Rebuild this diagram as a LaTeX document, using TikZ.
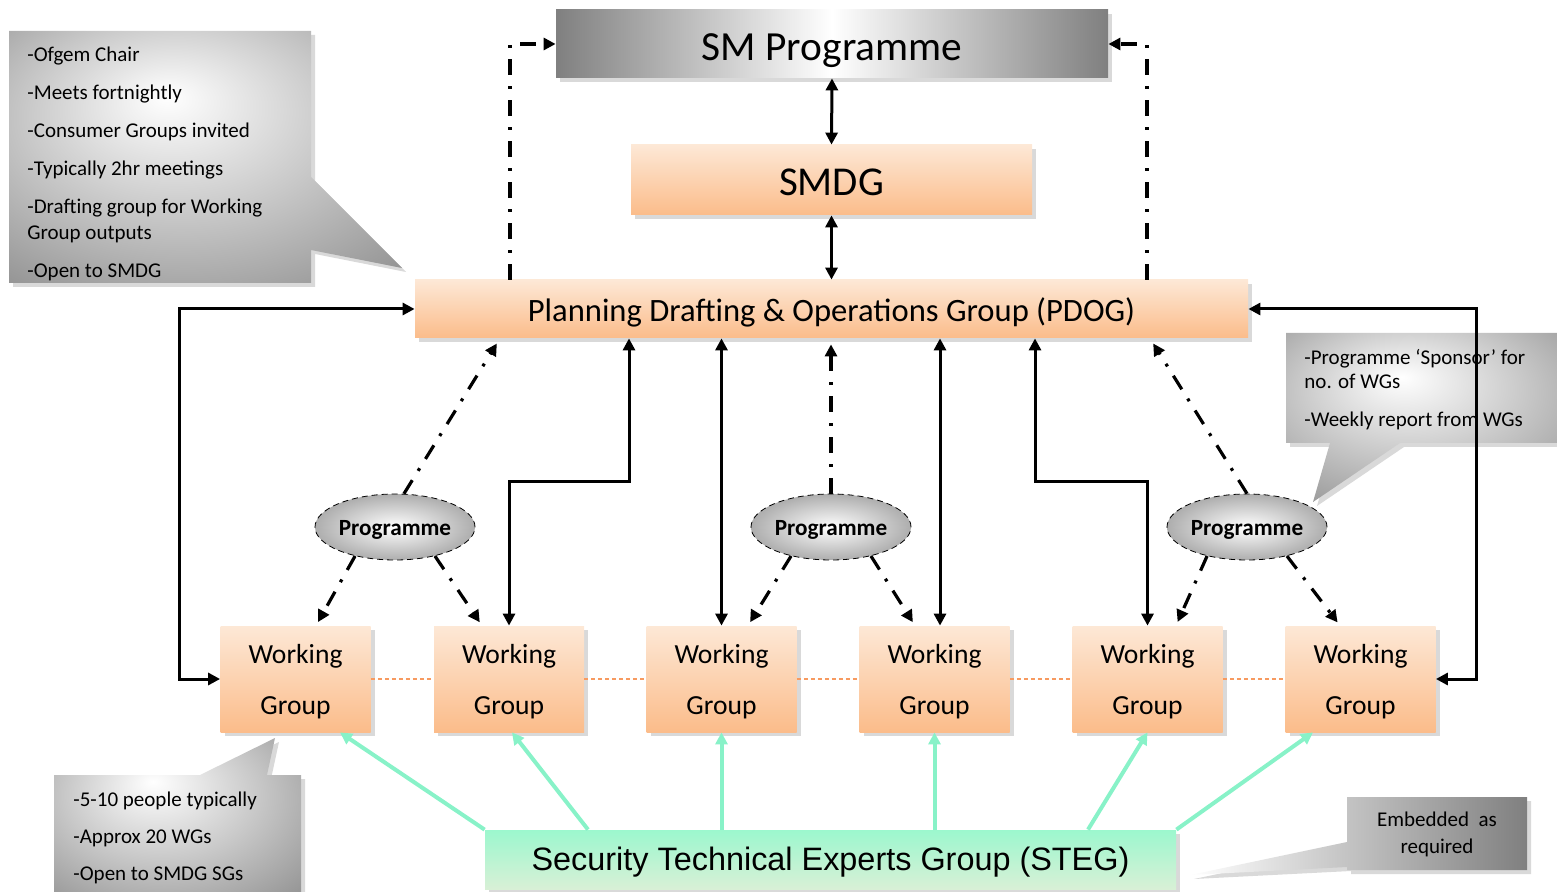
\documentclass[tikz,border=0pt]{standalone}
\usepackage{fontspec}
\setmainfont{Carlito}
\newfontfamily\stegfont{Liberation Sans}
\usetikzlibrary{shapes.geometric,arrows.meta,shadows}

\definecolor{orTop}{HTML}{FDE8D6}
\definecolor{orBot}{HTML}{FBBC8A}
\definecolor{stTop}{HTML}{9CF7CE}
\definecolor{stBot}{HTML}{D8F0D6}
\definecolor{stLine}{HTML}{88F2C8}
\definecolor{wgLine}{HTML}{F79A60}

\pgfdeclareradialshading{callshade}{\pgfpoint{-5bp}{12bp}}{color(0bp)=(white); color(20bp)=(black!22); color(45bp)=(black!50); color(60bp)=(black!55)}

\tikzset{
  shad/.style={drop shadow={opacity=0.3, shadow xshift=2pt, shadow yshift=-2pt}},
  smbox/.style={rectangle, left color=black!50, right color=black!50, middle color=white, minimum width=276pt, minimum height=34pt, text height=16.3pt, text depth=0pt, font=\fontsize{20.7}{24}\selectfont, shad},
  orbox/.style={rectangle, top color=orTop, bottom color=orBot, shad},
  wgbox/.style={orbox, minimum width=75pt, minimum height=53pt, inner sep=0pt, align=center, text height=35.4pt, text depth=0pt, font=\fontsize{13.8}{25.5}\selectfont},
  progell/.style={ellipse, draw, densely dashed, line width=0.4pt, inner color=white, outer color=black!32, minimum width=80pt, minimum height=33pt, inner sep=0pt, text height=8.5pt, text depth=0pt, font=\bfseries\fontsize{11.6}{13}\selectfont},
  stegbox/.style={rectangle, top color=stTop, bottom color=stBot, minimum width=345.5pt, minimum height=29.5pt, text height=11pt, text depth=0pt, font=\stegfont\fontsize{16.2}{19}\selectfont, shad},
  callout/.style={shading=callshade, shad},
  ctext/.style={anchor=north west, align=left, inner sep=0pt, font=\fontsize{10.5}{13}\selectfont},
  link/.style={line width=1.5pt},
  ddlink/.style={line width=1.6pt, dash pattern=on 8pt off 5.5pt on 1.5pt off 5.5pt},
  glink/.style={line width=2pt, stLine, ->},
  wgdash/.style={wgLine, dash pattern=on 2pt off 1.5pt, line width=0.6pt}
}

\begin{document}
\begin{tikzpicture}[x=0.5pt, y=-0.5pt, >={Triangle[length=6pt,width=6pt]}]
\useasboundingbox (0,0) rectangle (1557,892);

% callouts
\shade[callout] (9,31) -- (311,31) -- (311,177) -- (402,268) -- (311,250) -- (311,283) -- (9,283) -- cycle;
\shade[callout] (1286,333) -- (1575,333) -- (1575,443) -- (1400,443) -- (1313,502) -- (1330,443) -- (1286,443) -- cycle;
\shade[callout] (54,775) -- (200,775) -- (275,738) -- (267,775) -- (301,775) -- (301,905) -- (54,905) -- cycle;
\shade[left color=white, right color=black!50, shad] (1347,797) -- (1527,797) -- (1527,870) -- (1347,870) -- (1347,867) -- (1190,875) -- (1347,842) -- cycle;

\node[ctext] (pdognote) at (27,47) {-Ofgem Chair\\[6pt]-Meets fortnightly\\[6pt]-Consumer Groups invited\\[6pt]-Typically 2hr meetings\\[6pt]-Drafting group for Working\\Group outputs\\[6pt]-Open to SMDG};
\node[ctext, font=\fontsize{10.5}{12}\selectfont] (prognote) at (1304,349) {-Programme ‘Sponsor’ for\\no. of WGs\\[7pt]-Weekly report from WGs};
\node[ctext, font=\fontsize{10.5}{18.5}\selectfont] (wgnote) at (73,792) {-5-10 people typically\\-Approx 20 WGs\\-Open to SMDG SGs};
\node[align=center, inner sep=0pt, font=\fontsize{10.5}{13.5}\selectfont] (stegnote) at (1437,834) {Embedded\ \ as\\required};

% boxes
\node[smbox] (sm) at (832,44) {SM Programme};
\node[orbox, minimum width=200.5pt, minimum height=35pt, text height=15.2pt, text depth=0pt, font=\fontsize{20.5}{24}\selectfont] (smdg) at (831.5,180) {SMDG};
\node[orbox, minimum width=416.5pt, minimum height=29pt, text height=12.4pt, text depth=0pt, font=\fontsize{16.3}{19}\selectfont] (pdog) at (831.5,309) {Planning Drafting \& Operations Group (PDOG)};

\node[progell] (p1) at (395,527) {Programme};
\node[progell] (p2) at (831,527) {Programme};
\node[progell] (p3) at (1247,527) {Programme};

\node[wgbox] (wg1) at (295.5,679) {Working\\Group};
\node[wgbox] (wg2) at (509,679) {Working\\Group};
\node[wgbox] (wg3) at (721.5,679) {Working\\Group};
\node[wgbox] (wg4) at (934.5,679) {Working\\Group};
\node[wgbox] (wg5) at (1147.5,679) {Working\\Group};
\node[wgbox] (wg6) at (1360.5,679) {Working\\Group};

\node[stegbox] (steg) at (830.5,859.5) {Security Technical Experts Group (STEG)};

% links
\draw[wgdash] (wg1) -- (wg2);
\draw[wgdash] (wg2) -- (wg3);
\draw[wgdash] (wg3) -- (wg4);
\draw[wgdash] (wg4) -- (wg5);
\draw[wgdash] (wg5) -- (wg6);

\draw[link,<->] (sm.south) -- (smdg.north);
\draw[link,<->] (smdg.south) -- (pdog.north);
\draw[link,<->] (pdog.west) -- ++(-117.5pt,0) |- (wg1.west);
\draw[link,<->] (pdog.east) -- ++(114pt,0) |- (wg6.east);
\draw[link,<->] ([xshift=-101.25pt]pdog.south) -- ++(0,-71.5pt) -| (wg2.north);
\draw[link,<->] (pdog.south -| wg3.north) -- (wg3.north);
\draw[link,<->] ([xshift=54.25pt]pdog.south) -- ([xshift=2.75pt]wg4.north);
\draw[link,<->] ([xshift=101.75pt]pdog.south) -- ++(0,-71.5pt) -| (wg5.north);

\draw[ddlink,->] ([xshift=-160.75pt]pdog.north) |- (sm.west);
\draw[ddlink,->] ([xshift=157.75pt]pdog.north) |- (sm.east);
\draw[ddlink,->,shorten >=3pt] (p1.75) -- ([xshift=-165.75pt]pdog.south);
\draw[ddlink,->,shorten >=3pt] (p2) -- (p2 |- pdog.south);
\draw[ddlink,->,shorten >=3pt] (p3.north) -- ([xshift=159.25pt]pdog.south);

\draw[ddlink,->,shorten >=2pt] (p1.-144) -- ([xshift=10.25pt]wg1.north);
\draw[ddlink,->,shorten >=2pt] (p1.-36) -- ([xshift=-13.5pt]wg2.north);
\draw[ddlink,->,shorten >=2pt] (p2.-144) -- ([xshift=13.25pt]wg3.north);
\draw[ddlink,->,shorten >=2pt] (p2.-36) -- ([xshift=-9.75pt]wg4.north);
\draw[ddlink,->,shorten >=2pt] (p3.-144) -- ([xshift=14.25pt]wg5.north);
\draw[ddlink,->,shorten >=2pt] (p3.-36) -- ([xshift=-10.25pt]wg6.north);

\draw[glink] (steg.north west) -- ([xshift=22.25pt]wg1.south);
\draw[glink] ([xshift=-121.25pt]steg.north) -- ([xshift=1.5pt]wg2.south);
\draw[glink] (steg.north -| wg3) -- (wg3.south);
\draw[glink] (steg.north -| wg4) -- (wg4.south);
\draw[glink] ([xshift=128.75pt]steg.north) -- (wg5.south);
\draw[glink] (steg.north east) -- ([xshift=-23.75pt]wg6.south);
\end{tikzpicture}
\end{document}
